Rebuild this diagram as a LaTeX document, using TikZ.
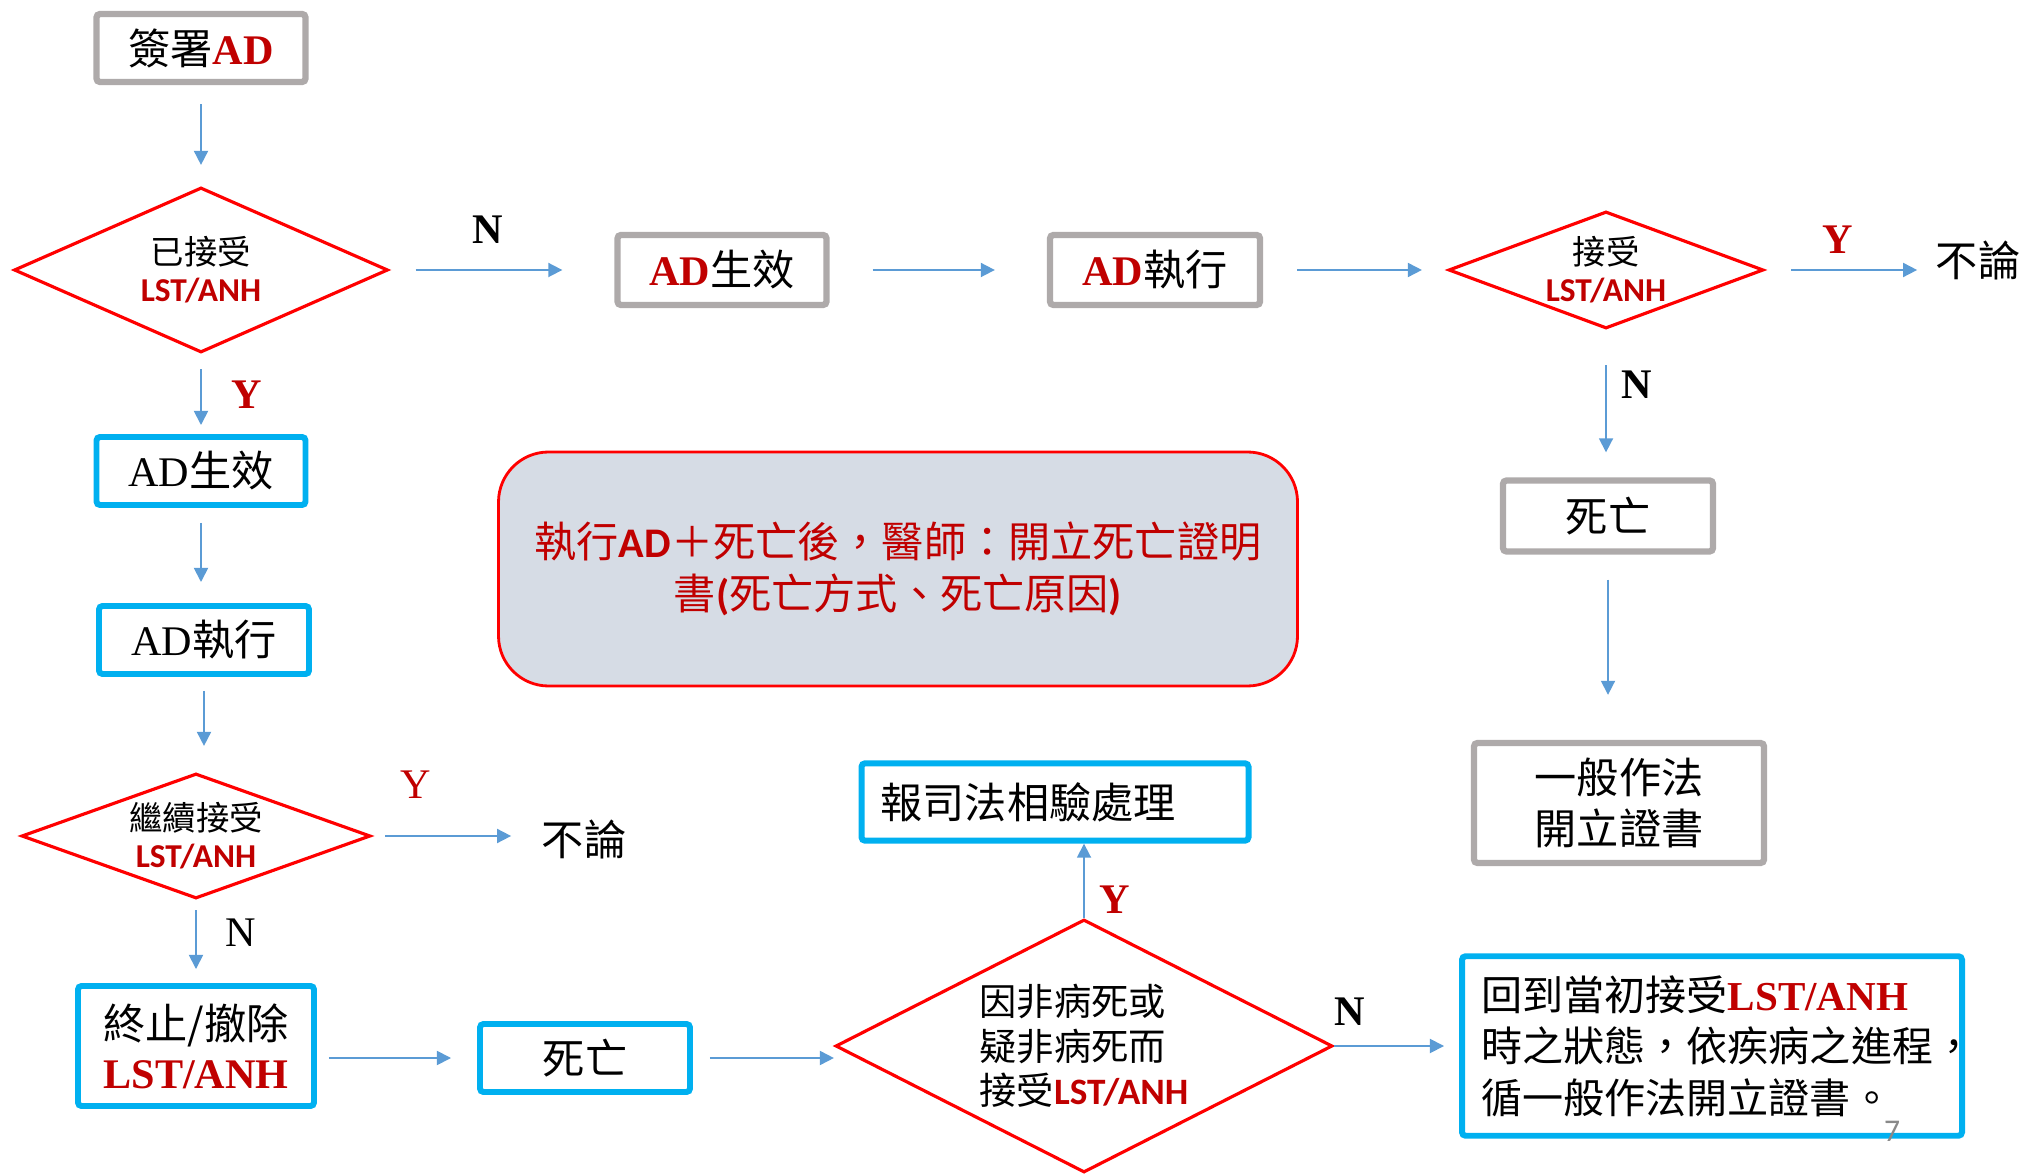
\documentclass[tikz,border=0pt]{standalone}
\usepackage{fontspec}
\usepackage{tikz}
\usetikzlibrary{positioning}
\usetikzlibrary{shapes.geometric, arrows.meta}
\setmainfont{Noto Sans CJK TC}
\newfontfamily\tnr{Liberation Serif}
\newfontfamily\carlito{Carlito}
\definecolor{boxgray}{HTML}{AEAAAA}
\definecolor{boxblue}{HTML}{00B0F0}
\definecolor{adred}{HTML}{C00000}
\definecolor{arrowblue}{HTML}{5B9BD5}
\definecolor{notefill}{HTML}{D6DCE5}
\definecolor{pagegray}{HTML}{898989}
\newcommand{\ad}{{\tnr\bfseries\color{adred}AD}}
\newcommand{\lstb}{{\carlito\bfseries\color{adred}LST/ANH}}
\newcommand{\lsts}{{\tnr\bfseries\color{adred}LST/ANH}}
\tikzstyle{graybox} = [rectangle, draw=boxgray, line width=1.8pt,
rounded corners=1pt, fill=white, align=center]
\tikzstyle{bluebox} = [rectangle, draw=boxblue, line width=1.7pt,
rounded corners=1pt, fill=white, align=center]
\tikzstyle{decision} = [diamond, draw=red, line width=0.9pt, inner sep=0pt,
align=center, font=\fontsize{9.5}{10.6}\selectfont]
\tikzstyle{plain} = [inner sep=0pt]
\tikzstyle{ylab} = [text=adred, font=\tnr\bfseries\fontsize{12}{14}\selectfont]
\tikzstyle{nlab} = [font=\tnr\bfseries\fontsize{12}{14}\selectfont]
\tikzstyle{flowarrow} = [draw=arrowblue, line width=0.5pt, ->, >={Triangle[length=4pt,width=4pt]}]

\begin{document}
\begin{tikzpicture}[font=\fontsize{12}{14.5}\selectfont]
\useasboundingbox (0,0) rectangle (20.24,-11.76);

% top row
\node[graybox, minimum width=2.09cm, minimum height=0.68cm] (sign) at (2.01,-0.48) {簽署\ad};
\node[decision, aspect=2.27, minimum width=3.74cm, minimum height=1.65cm] (acc1) at (2.01,-2.70) {已接受\\\lstb};
\node[graybox, minimum width=2.09cm, minimum height=0.70cm] (valid1) at (7.22,-2.70) {\ad 生效};
\node[graybox, minimum width=2.10cm, minimum height=0.70cm] (exec1) at (11.55,-2.70) {\ad 執行};
\node[decision, aspect=2.69, minimum width=3.15cm, minimum height=1.17cm] (acc2) at (16.06,-2.70) {接受\\\lstb};
\node[plain] (any1) at (19.78,-2.60) {不論};

% right column
\node[graybox, minimum width=2.10cm, minimum height=0.71cm] (dead1) at (16.08,-5.16) {死亡};
\node[graybox, minimum width=2.90cm, minimum height=1.20cm] (cert) at (16.19,-8.03) {一般作法\\開立證書};

% left column
\node[bluebox, minimum width=2.09cm, minimum height=0.68cm] (valid2) at (2.01,-4.71) {{\tnr AD}生效};
\node[bluebox, minimum width=2.10cm, minimum height=0.68cm] (exec2) at (2.04,-6.40) {{\tnr AD}執行};
\node[decision, aspect=2.79, minimum width=3.49cm, minimum height=1.25cm] (acc3) at (1.96,-8.36) {繼續接受\\\lstb};
\node[plain] (any2) at (5.84,-8.39) {不論};
\node[bluebox, minimum width=2.36cm, minimum height=1.20cm, font=\fontsize{12}{13.9}\selectfont] (stop) at (1.96,-10.46) {終止/撤除\\\lsts};

% bottom row
\node[bluebox, minimum width=2.10cm, minimum height=0.68cm] (dead2) at (5.85,-10.58) {死亡};
\node[decision, aspect=1.96, minimum width=4.97cm, minimum height=2.53cm, align=left,
font=\fontsize{10.6}{12.7}\selectfont] (cause) at (10.84,-10.46) {因非病死或\\疑非病死而\\接受\lstb};
\node[bluebox, text width=3.49cm, inner sep=0.19cm, minimum height=0.70cm, align=left] (report) at (10.55,-8.02) {報司法相驗處理};
\node[bluebox, text width=4.62cm, inner sep=0.19cm, minimum height=1.72cm, align=left,
font=\fontsize{11.7}{14.7}\selectfont] (back) at (17.12,-10.46) {回到當初接受\lsts\\時之狀態，依疾病之進程，\\循一般作法開立證書。};

% note in the middle
\node[draw=red, fill=notefill, rounded corners=0.5cm, line width=0.8pt, minimum width=7.99cm,
minimum height=2.34cm, align=center, text=adred, font=\fontsize{12}{14.7}\selectfont] (note) at (8.98,-5.69)
{執行{\carlito\bfseries AD}＋死亡後，醫師：開立死亡證明\\書{\carlito\bfseries(}死亡方式、死亡原因{\carlito\bfseries)}};

% arrows
\draw[flowarrow, shorten <=0.19cm, shorten >=0.21cm] (sign) -- (acc1);
\draw[flowarrow, shorten <=0.26cm, shorten >=0.52cm] (acc1) -- (valid1);
\draw[flowarrow, shorten <=0.43cm, shorten >=0.52cm] (valid1) -- (exec1);
\draw[flowarrow, shorten <=0.34cm, shorten >=0.25cm] (exec1) -- (acc2);
\draw[flowarrow, shorten <=0.26cm, shorten >=0.18cm] (acc2) -- (acc2 -| any1.west);
\draw[flowarrow, shorten <=0.35cm, shorten >=0.25cm] (acc2) -- (acc2 |- dead1.north);
\draw[flowarrow, shorten <=0.25cm, shorten >=0.45cm] (dead1) -- (dead1 |- cert.north);
\draw[flowarrow, shorten <=0.15cm, shorten >=0.09cm] (acc1) -- (valid2);
\draw[flowarrow, shorten <=0.15cm, shorten >=0.21cm] (valid2) -- (valid2 |- exec2.north);
\draw[flowarrow, shorten <=0.14cm, shorten >=0.26cm] (exec2) -- (exec2 |- acc3.north);
\draw[flowarrow, shorten <=0.13cm, shorten >=0.30cm] (acc3) -- (acc3 -| any2.west);
\draw[flowarrow, shorten <=0.10cm, shorten >=0.14cm] (acc3) -- (stop);
\draw[flowarrow, shorten <=0.12cm, shorten >=0.26cm] (stop.east |- dead2) -- (dead2);
\draw[flowarrow, shorten <=0.17cm] (dead2) -- (dead2 -| cause.west);
\draw[flowarrow] (cause) -- (cause |- report.south);
\draw[flowarrow, shorten >=0.15cm] (cause) -- (back);

% Y / N labels
\node[nlab] (n1) at (4.88,-2.30) {N};
\node[ylab] (y1) at (18.38,-2.40) {Y};
\node[nlab] (n2) at (16.37,-3.85) {N};
\node[ylab] (y2) at (2.47,-3.95) {Y};
\node[ylab, font=\tnr\fontsize{12}{14}\selectfont] (y3) at (4.16,-7.85) {Y};
\node[nlab, font=\tnr\fontsize{12}{14}\selectfont] (n3) at (2.41,-9.33) {N};
\node[ylab] (y4) at (11.15,-9.00) {Y};
\node[nlab] (n4) at (13.50,-10.12) {N};
\node[text=pagegray, font=\carlito\fontsize{9}{10}\selectfont] (page) at (18.92,-11.31) {7};
\end{tikzpicture}
\end{document}
